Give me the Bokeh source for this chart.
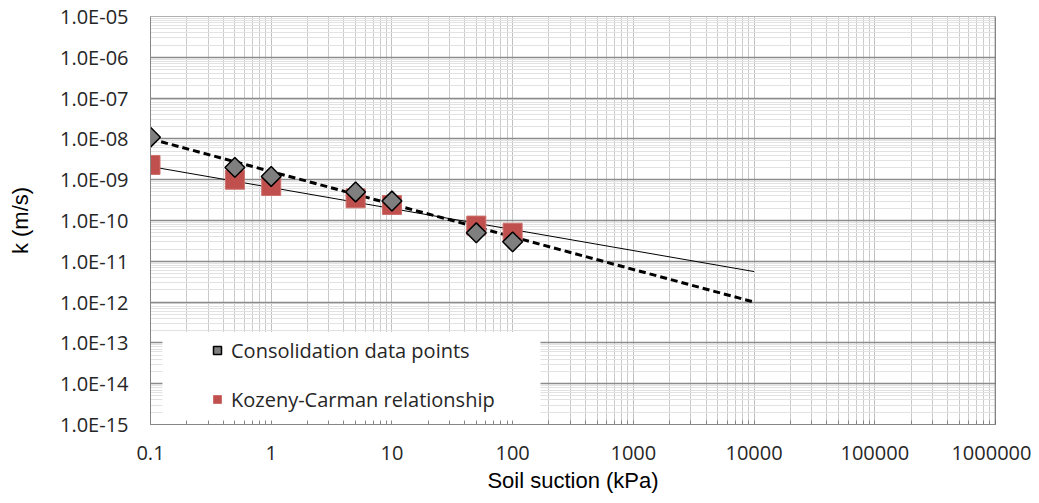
import math
from bokeh.plotting import figure
from bokeh.models import (Range1d, FixedTicker, CustomJSTickFormatter, Legend, LegendItem,
                          Span, BoxAnnotation)
from bokeh.embed import file_html
from bokeh.resources import INLINE

# ---- data ----
suction = [0.1, 0.5, 1, 5, 10, 50, 100]
k_consolidation = [1.1e-8, 2.0e-9, 1.2e-9, 5.0e-10, 3.0e-10, 5.0e-11, 3.0e-11]
k_kozeny_carman = [2.3e-9, 1.0e-9, 7.0e-10, 3.5e-10, 2.4e-10, 7.5e-11, 5.0e-11]

trend_x = [0.1, 10000]
trend_consolidation = [1.0e-8, 1.0e-12]
trend_kozeny_carman = [2.1e-9, 5.6e-12]

x_major = [0.1, 1, 10, 100, 1000, 10000, 100000, 1000000]
y_major = [10.0 ** e for e in range(-15, -4)]
x_minor = [m * 10.0 ** e for e in range(-1, 6) for m in range(2, 10)]
y_minor = [m * 10.0 ** e for e in range(-15, -5) for m in range(2, 10)]

series_names = ["Consolidation data points", "Kozeny-Carman relationship"]
x_title = "Soil suction (kPa)"
y_title = "k (m/s)"

TICK_FONT = "Open Sans"
TITLE_FONT = "Liberation Sans"

W, H = 1031, 495
p = figure(width=W, height=H, x_axis_type="log", y_axis_type="log",
           x_range=Range1d(0.1, 1e6), y_range=Range1d(1e-15, 1e-5),
           output_backend="svg", toolbar_location=None,
           min_border_left=150, min_border_right=36, min_border_top=16, min_border_bottom=70)
p.outline_line_color = "#b0b0b0"
p.background_fill_color = "white"
p.border_fill_color = "white"

# grids
p.xgrid.ticker = FixedTicker(ticks=x_major, minor_ticks=x_minor)
p.ygrid.ticker = FixedTicker(ticks=y_major, minor_ticks=y_minor)
p.xgrid.grid_line_color = "#c0c0c0"
p.xgrid.minor_grid_line_color = "#cbcbcb"
p.ygrid.grid_line_color = "#8c8c8c"
p.ygrid.grid_line_width = 1.5
p.ygrid.minor_grid_line_color = "#e2e2e2"

# axes
xa = p.xaxis[0]
ya = p.yaxis[0]
xa.ticker = FixedTicker(ticks=x_major, minor_ticks=x_minor)
ya.ticker = FixedTicker(ticks=y_major, minor_ticks=y_minor)
xa.formatter = CustomJSTickFormatter(code="return tick < 1 ? tick.toFixed(1) : tick.toFixed(0);")
ya.formatter = CustomJSTickFormatter(code="""
const e = Math.round(Math.log10(tick));
const s = String(Math.abs(e)).padStart(2, '0');
return '1.0E' + (e < 0 ? '-' : '+') + s;
""")
for ax in (xa, ya):
    ax.axis_line_color = "#868686"
    ax.major_label_text_font = TICK_FONT
    ax.major_label_text_font_size = "20px"
    ax.major_label_text_color = "#262626"
    ax.axis_label_text_font = TITLE_FONT
    ax.axis_label_text_font_size = "22px"
    ax.axis_label_text_font_style = "normal"
    ax.axis_label_text_color = "#000000"
xa.major_tick_in = 4
xa.major_tick_out = 0
xa.minor_tick_in = 4
xa.minor_tick_out = 0
xa.major_tick_line_color = "#868686"
xa.minor_tick_line_color = "#868686"
xa.major_label_standoff = 21
xa.axis_label = x_title
xa.axis_label_standoff = 5
ya.major_tick_in = 0
ya.major_tick_out = 0
ya.minor_tick_in = 0
ya.minor_tick_out = 0
ya.major_label_standoff = 22
ya.axis_label = y_title
ya.axis_label_standoff = 24

p.add_layout(Span(location=1e6, dimension="height", line_color="#595959", line_width=1.5))

# legend background box
p.add_layout(BoxAnnotation(left=0.1256, right=170, bottom=1e-15, top=1.86e-13,
                           fill_color="white", fill_alpha=1.0, line_color=None, level="underlay"))

# trend lines
p.line(trend_x, trend_consolidation, line_color="black", line_width=3, line_dash="7 4")
p.line(trend_x, trend_kozeny_carman, line_color="black", line_width=1)

# data points
r_kc = p.scatter(suction, k_kozeny_carman, marker="square", size=19,
                 fill_color="#c0504d", line_color="#cd6f6c", line_width=1)
r_co = p.scatter(suction, k_consolidation, marker="square", angle=math.pi / 4, size=14,
                 fill_color="#7f7f7f", line_color="black", line_width=1.5)

legend = Legend(items=[LegendItem(label=series_names[0], renderers=[r_co]),
                       LegendItem(label=series_names[1], renderers=[r_kc])],
                location=(57, 10), padding=10, glyph_width=20, glyph_height=30,
                label_height=30, spacing=19, label_standoff=4,
                label_text_font=TICK_FONT, label_text_font_size="20px",
                label_text_color="#262626",
                background_fill_alpha=0, border_line_color=None)
p.add_layout(legend)

open("out.html", "w").write(file_html(p, INLINE))
